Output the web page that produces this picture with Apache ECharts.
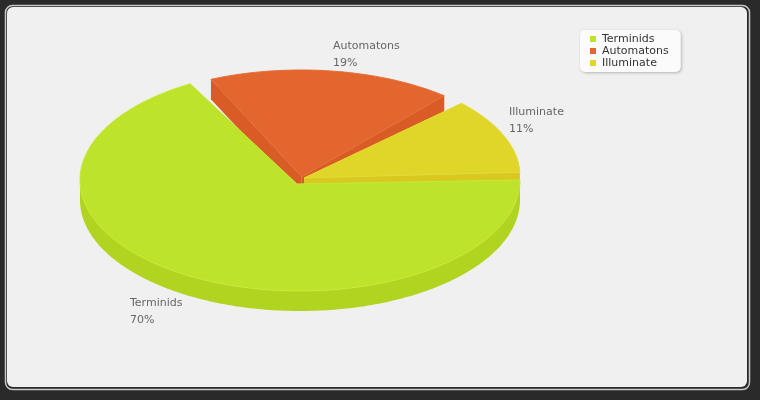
<!DOCTYPE html>
<html><head><meta charset="utf-8">
<style>html,body{margin:0;padding:0;background:#2a2a2a}#c{width:760px;height:400px}</style>
<script src="https://cdn.jsdelivr.net/npm/echarts@6/dist/echarts.min.js"></script>
</head><body><div id="c"></div>
<script>
const categories = ['Terminids', 'Automatons', 'Illuminate'];
const shares = [70, 19, 11];

const looks = {
  Terminids:  {top:'#bde32a', edge:'#c6ea38', side:'#b0d41f', c:[300,180], ry:111, v:[297,184], label:[130,303], padLow:3.3, padHigh:2},
  Automatons: {top:'#e2662d', edge:'#e56f37', side:'#d95b25', c:[301,177], ry:107, v:[301.7,176.7], label:[333,46], padLow:3.3, padHigh:2.5},
  Illuminate: {top:'#e0d62a', edge:'#e4da34', side:'#d8c81f', c:[300,176], ry:107, v:[304,178], label:[509,112], padLow:0, padHigh:3.3}
};
const RX = 220, DEPTH = 20, START = 2, WARP = 7;
const rad = d => d * Math.PI / 180;
// shares run clockwise from the right-hand edge; the tilted view stretches the upper half slightly
function warp(t){ return t + START + WARP * Math.sin(rad(t)); }
function span(i){
  const total = shares.reduce((a,b)=>a+b,0);
  let cum = 0; for(let k=0;k<i;k++) cum += shares[k];
  // counter-clockwise true angles
  const hi = 360 - cum/total*360, lo = 360 - (cum+shares[i])/total*360;
  return [warp(lo), warp(hi)];
}
function rimPoint(l, a, dz){ return [l.c[0] + RX*Math.cos(rad(a)), l.c[1] - l.ry*Math.sin(rad(a)) + (dz||0)]; }

function sliceItem(i){
  const l = looks[categories[i]];
  const [lo0, hi0] = span(i);
  const lo = lo0 + l.padLow, hi = hi0 - l.padHigh;
  const n = Math.ceil(hi-lo);
  const rim = [];
  for(let k=0;k<=n;k++) rim.push(rimPoint(l, lo+(hi-lo)*k/n));
  const children = [];
  const a = rim[0], b = rim[rim.length-1];
  const vb = [l.v[0], l.v[1]+DEPTH];
  // cut walls
  [a,b].forEach(p=>{
    children.push({type:'polygon', shape:{points:[l.v,p,[p[0],p[1]+DEPTH],vb]}, style:{fill:l.side}});
  });
  // outer wall: lower half of the rim only
  const front = [];
  for(let d=Math.max(180,lo); d<=Math.min(360,hi); d+=1) front.push(d);
  if(front.length>1){
    const up = front.map(d=>rimPoint(l,d));
    const dn = front.map(d=>rimPoint(l,d,DEPTH)).reverse();
    children.push({type:'polygon', shape:{points:up.concat(dn)}, style:{fill:l.side}});
  }
  children.push({type:'polygon', shape:{points:[l.v].concat(rim)}, style:{fill:l.top, stroke:l.edge, lineWidth:1}});
  children.push({type:'text', x:l.label[0], y:l.label[1]-8.5, style:{
    text:categories[i]+'\n'+shares[i]+'%', fill:'#666', font:'11px "DejaVu Sans"', lineHeight:17,
    align:'left', verticalAlign:'top'
  }});
  return {type:'group', children};
}

const chart = echarts.init(document.getElementById('c'), null, {renderer:'canvas'});
// paint order: back slices first
const paint = {Automatons:1, Illuminate:2, Terminids:3};
chart.setOption({
  animation:false,
  backgroundColor:'#2a2a2a',
  color: categories.map(n=>looks[n].top),
  graphic:[
    {type:'rect', z:-2, shape:{x:5.5,y:5.5,width:744,height:384,r:7}, style:{fill:'#2a2a2a',stroke:'#c8c8c8',lineWidth:1.5}},
    {type:'rect', z:-1, shape:{x:7,y:7,width:740,height:380,r:6}, style:{fill:'#f0f0f0'}}
  ],
  legend:{
    data:categories, orient:'vertical', left:580, top:30, padding:[3,12,3,10], itemGap:0,
    itemWidth:6, itemHeight:6, icon:'rect', selectedMode:false,
    backgroundColor:'#fbfbfb', borderRadius:5, shadowColor:'rgba(0,0,0,0.25)', shadowBlur:3, shadowOffsetX:1, shadowOffsetY:1,
    textStyle:{color:'#333', fontFamily:'DejaVu Sans', fontSize:11, lineHeight:12, padding:[0,0,0,1]}
  },
  series: categories.map((name,i)=>({
    type:'custom', name, coordinateSystem:'none', z:paint[name], silent:true,
    data:[shares[i]], renderItem:()=>sliceItem(i)
  }))
});
</script></body></html>
